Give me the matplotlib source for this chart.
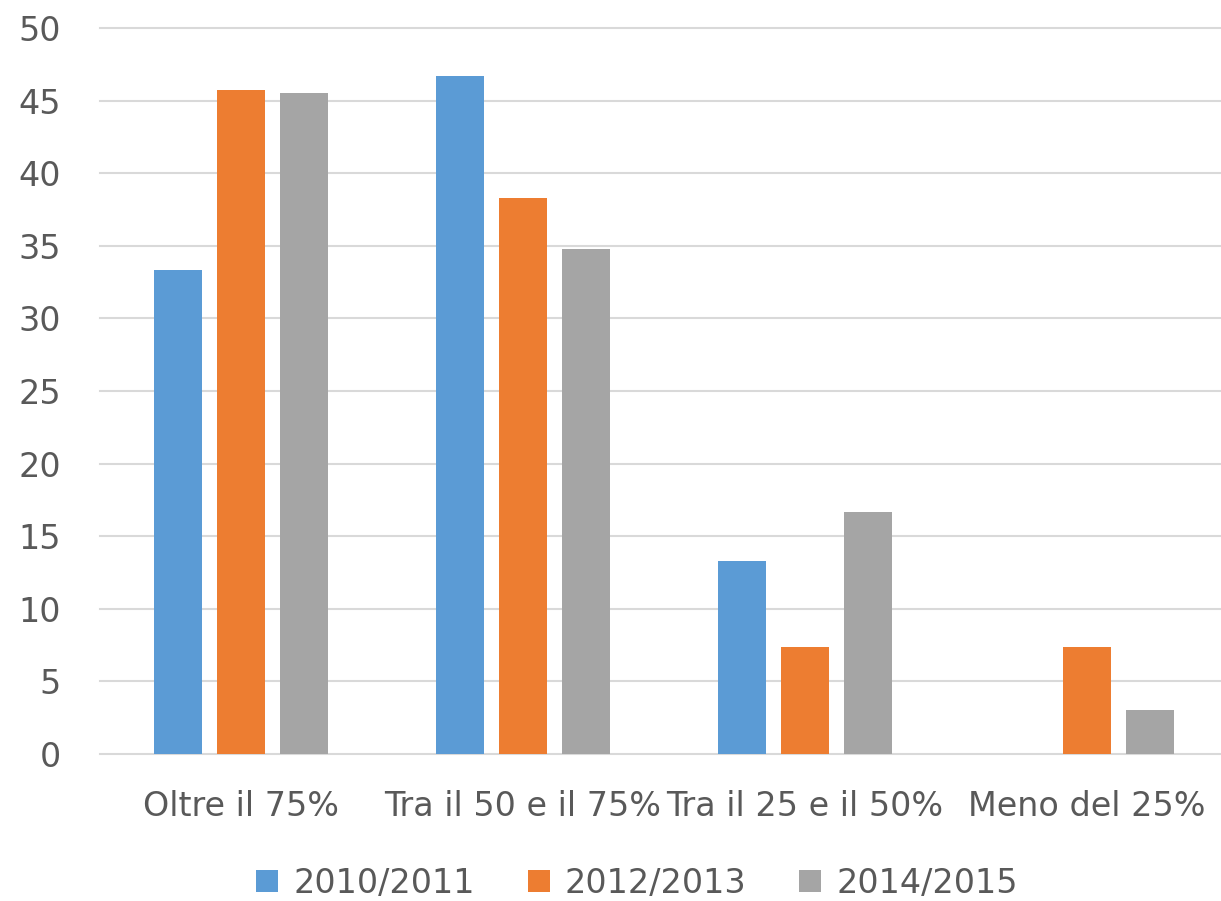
import numpy as np
import matplotlib.pyplot as plt

categorie = ["Oltre il 75%", "Tra il 50 e il 75%", "Tra il 25 e il 50%", "Meno del 25%"]
serie = ["2010/2011", "2012/2013", "2014/2015"]
v2010 = [33.3, 46.7, 13.3, 0.0]
v2012 = [45.7, 38.3, 7.4, 7.4]
v2014 = [45.5, 34.8, 16.7, 3.0]
colori = ["#5b9bd5", "#ed7d31", "#a5a5a5"]

plt.rcParams['font.family'] = ['DejaVu Sans']
testo = "#595959"

fig = plt.figure(figsize=(12.21, 9.01), dpi=100)
ax = fig.add_axes([100/1221, 1 - 754/901, 1128/1221, (754 - 28)/901])

x = np.arange(len(categorie))
w = 0.17
passo = 0.222
for i, (vals, lab) in enumerate(zip([v2010, v2012, v2014], serie)):
    ax.bar(x + (i - 1) * passo, vals, w, color=colori[i], label=lab, zorder=3)

ax.set_xlim(-0.5, 3.5)
ax.set_ylim(0, 50)
ax.set_yticks(range(0, 51, 5))
ax.yaxis.grid(True, color="#d9d9d9", linewidth=1.5, zorder=0)
for l in ax.get_ygridlines():
    l.set_clip_on(False)
ax.set_xticks(x)
ax.set_xticklabels(categorie)
ax.tick_params(axis='both', length=0, labelsize=24, colors=testo)
ax.tick_params(axis='x', pad=26)
ax.tick_params(axis='y', pad=28)
for s in ax.spines.values():
    s.set_visible(False)

fig.legend(loc='center', bbox_to_anchor=(637/1221, 1 - 883/901), ncol=3,
           frameon=False, fontsize=24, labelcolor=testo, handlelength=0.65,
           handleheight=0.65, handletextpad=0.45, columnspacing=1.6)

fig.savefig("out.png", dpi=100)
